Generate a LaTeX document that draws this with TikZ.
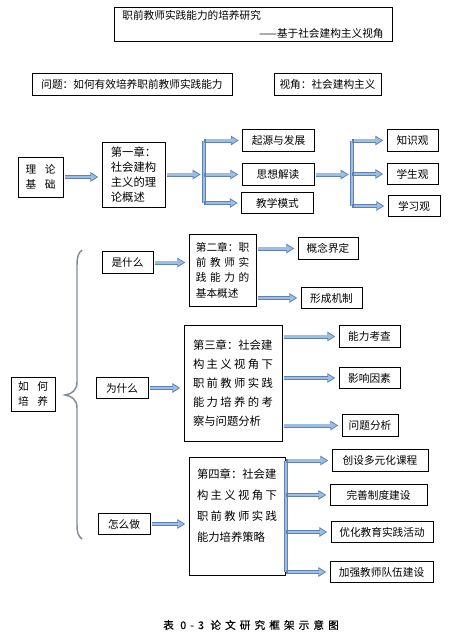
\documentclass[tikz,border=0pt]{standalone}
\usepackage{fontspec}
\setmainfont{Noto Sans CJK SC}
\newfontfamily\capfont{Noto Sans CJK SC}[LetterSpace=38,FakeBold=0.3]
\usetikzlibrary{arrows.meta}

\definecolor{arrowfill}{RGB}{157,190,228}
\definecolor{arrowedge}{RGB}{95,130,180}
\definecolor{bracegray}{RGB}{128,140,155}

\tikzset{
  box/.style={draw, line width=0.6pt, minimum height=16pt, inner sep=1pt, font=\fontsize{8}{11}\selectfont},
  chbox/.style={box, align=left},
  fat/.style={line width=3pt, draw=arrowedge, -{Triangle[length=6pt,width=7pt]},
    shorten <=1.5pt, shorten >=2.5pt,
    postaction={draw=arrowfill, line width=1.6pt, -{Triangle[length=4.2pt,width=4.4pt]},
      shorten <=1.5pt, shorten >=3.7pt}},
  bar/.style={line width=3pt, draw=arrowedge, postaction={draw=arrowfill, line width=1.6pt}}
}

\begin{document}
\begin{tikzpicture}[x=0.75pt, y=-0.75pt]
\useasboundingbox (0,0) rectangle (451,636);

% Title and headings
\node[box, minimum width=208.5pt, minimum height=25.5pt, align=left, text width=196pt,
  font=\fontsize{8}{13.5}\selectfont] (title) at (253,24)
  {职前教师实践能力的培养研究\\\hfill——基于社会建构主义视角};
\node[box, minimum width=150pt] (question) at (132,84.5) {问题：如何有效培养职前教师实践能力};
\node[box, minimum width=80.25pt, minimum height=16.5pt] (view) at (327.5,84) {视角：社会建构主义};

% Theory part
\node[box, minimum width=33.75pt, minimum height=30pt, align=center] (lilun) at (40.5,177)
  {理\hspace{0.8em}论\\基\hspace{0.8em}础};
\node[chbox, minimum width=47.25pt, minimum height=48.75pt,
  font=\fontsize{8.5}{11.25}\selectfont] (ch1) at (133.5,174.5)
  {第一章：\\社会建构\\主义的理\\论概述};
\node[box, minimum width=54pt] (qiyuan) at (278.5,140.5) {起源与发展};
\node[box, minimum width=54pt] (sixiang) at (278,174.5) {思想解读};
\node[box, minimum width=54pt] (jiaoxue) at (277.5,203) {教学模式};
\node[box, minimum width=38.25pt] (zhishi) at (412.5,140.5) {知识观};
\node[box, minimum width=38.25pt] (xuesheng) at (412.5,174) {学生观};
\node[box, minimum width=39pt] (xuexi) at (414,206) {学习观};

\coordinate (b1t) at (204,140.5);
\coordinate (b1b) at (204,203);
\coordinate (b2t) at (352,140.5);
\coordinate (b2b) at (352,206);
\draw[bar] (b1t) -- (b1b);
\draw[bar] (b2t) -- (b2b);

\draw[fat] (lilun.east) -- (ch1.west |- lilun.east);
\draw[fat] (ch1.east) -- (b1t |- ch1.east);
\foreach \n in {qiyuan,sixiang,jiaoxue}
  \draw[fat, shorten <=0pt] (b1t |- \n) -- (\n.west);
\draw[fat] (sixiang.east) -- (b2t |- sixiang.east);
\foreach \n in {zhishi,xuesheng,xuexi}
  \draw[fat, shorten <=0pt] (b2t |- \n) -- (\n.west);

% How to cultivate
\node[box, minimum width=33pt, minimum height=25.5pt, align=center] (ruhe) at (33,394)
  {如\hspace{0.8em}何\\培\hspace{0.8em}养};
\draw[bracegray, line width=1.1pt] (82,250) .. controls (78,253) and (77,258) .. (77,265)
  -- (77,382) .. controls (77,390) and (72,394) .. (65,395)
  .. controls (72,396) and (77,400) .. (77,408) -- (77,525)
  .. controls (77,532) and (78,536) .. (82,539);

\node[box, minimum width=38.25pt] (shishenme) at (127.5,262.5) {是什么};
\node[box, minimum width=39pt] (weishenme) at (122,388) {为什么};
\node[box, minimum width=39pt] (zenme) at (124,524) {怎么做};

% Chapter two
\node[chbox, minimum width=50.25pt, minimum height=54pt, text width=40pt,
  font=\fontsize{8}{11.5}\selectfont] (ch2) at (222.5,270)
  {第二章：职\\前\hfill 教\hfill 师\hfill 实\\践\hfill 能\hfill 力\hfill 的\\基本概述};
\node[box, minimum width=45pt] (gainian) at (328,248.5) {概念界定};
\node[box, minimum width=45.75pt] (xingcheng) at (331.5,298) {形成机制};
\draw[fat] (shishenme.east) -- (ch2.west |- shishenme.east);
\foreach \n in {gainian,xingcheng}
  \draw[fat] (ch2.east |- \n) -- (\n.west);

% Chapter three
\node[chbox, minimum width=73.5pt, minimum height=87pt, text width=60pt,
  font=\fontsize{8.5}{14.25}\selectfont] (ch3) at (233,383)
  {第三章：社会建\\构\hfill 主\hfill 义\hfill 视\hfill 角\hfill 下\\
   职\hfill 前\hfill 教\hfill 师\hfill 实\hfill 践\\能\hfill 力\hfill 培\hfill 养\hfill 的\hfill 考\\察与问题分析};
\node[box, minimum width=45.75pt] (nengli) at (369.5,336.5) {能力考查};
\node[box, minimum width=45.75pt] (yingxiang) at (369.5,378) {影响因素};
\node[box, minimum width=42pt, minimum height=17pt] (wenti) at (370,425.5) {问题分析};
\draw[fat] (weishenme.east) -- (ch3.west |- weishenme.east);
\foreach \n in {nengli,yingxiang,wenti}
  \draw[fat] (ch3.east |- \n) -- (\n.west);

% Chapter four
\node[box, minimum width=72pt, minimum height=88.5pt] (ch4) at (237,516) {};
\node[anchor=north, align=left, text width=60pt, inner sep=0pt,
  font=\fontsize{8.5}{15.75}\selectfont] (ch4txt) at ([yshift=-9pt]ch4.north)
  {第四章：社会建\\构\hfill 主\hfill 义\hfill 视\hfill 角\hfill 下\\
   职\hfill 前\hfill 教\hfill 师\hfill 实\hfill 践\\能力培养策略};
\node[box, minimum width=72pt] (chuangshe) at (380,460.5) {创设多元化课程};
\node[box, minimum width=72.75pt] (wanshan) at (378.5,495) {完善制度建设};
\node[box, minimum width=76.5pt] (youhua) at (382,532) {优化教育实践活动};
\node[box, minimum width=77.25pt] (jiaqiang) at (381.5,572) {加强教师队伍建设};
\coordinate (b4t) at (286,460.5);
\coordinate (b4b) at (286,572);
\draw[bar] (b4t) -- (b4b);
\draw[fat] (zenme.east) -- (ch4.west |- zenme.east);
\foreach \n in {chuangshe,wanshan,youhua,jiaqiang}
  \draw[fat, shorten <=0pt] (b4t |- \n) -- (\n.west);

% Caption
\node[font=\capfont\fontsize{8}{10}\selectfont] (caption) at (251,625) {表 0-3 论文研究框架示意图};

\end{tikzpicture}
\end{document}
